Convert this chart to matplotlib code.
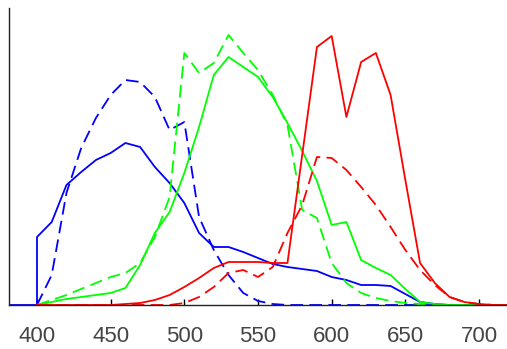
import matplotlib
matplotlib.use("Agg")
import matplotlib.pyplot as plt
import numpy as np

# wavelengths (nm), sampled every 10 nm
wl = np.arange(400, 730, 10)

# leading flat part of the blue solid curve
blue_lead_wl = [380, 400]
blue_lead = [0, 0]

blue_solid = [68, 83, 120, 133, 145, 152, 162, 158, 138, 122, 102, 72, 58, 58, 53, 47,
              41, 38, 36, 34, 28, 25, 20, 20, 19, 11, 3, 1, 0, 0, 0, 0, 0]
blue_dashed = [0, 30, 112, 157, 187, 210, 225, 223, 208, 175, 183, 88, 55, 30, 12, 4,
               1, 0, 0, 0, 0, 0, 0, 0, 0, 0, 0, 0, 0, 0, 0, 0, 0]
green_solid = [0, 3, 6, 8, 10, 12, 17, 40, 72, 93, 132, 178, 230, 248, 238, 228,
               208, 182, 154, 124, 80, 83, 45, 37, 30, 16, 3, 1, 0, 0, 0, 0, 0]
green_dashed = [0, 5, 10, 16, 22, 28, 32, 42, 68, 108, 252, 232, 242, 270, 252, 235,
                210, 180, 95, 87, 42, 22, 12, 7, 4, 2, 1, 0, 0, 0, 0, 0, 0]
red_solid = [0, 0, 0, 0, 0, 0, 1, 2, 5, 10, 18, 27, 37, 43, 43, 43,
             42, 42, 150, 258, 269, 188, 243, 252, 210, 125, 42, 22, 8, 3, 1, 0, 0]
red_dashed = [0, 0, 0, 0, 0, 0, 0, 0, 0, 0, 2, 8, 18, 32, 35, 28,
              38, 72, 100, 148, 147, 135, 118, 100, 78, 55, 35, 20, 8, 3, 1, 0, 0]

xticks = [400, 450, 500, 550, 600, 650, 700]

fig = plt.figure(figsize=(5.07, 3.49), dpi=100)
ax = fig.add_axes([9 / 507, 44 / 349, 498 / 507, 297 / 349])

lw = 1.3
dash = (7, 3.5)
ax.plot(list(blue_lead_wl) + list(wl), blue_lead + blue_solid, color="#0000ff", lw=lw)
ax.plot(wl, blue_dashed, color="#0000ff", lw=lw, dashes=dash)
ax.plot(wl, green_solid, color="#00ff00", lw=lw)
ax.plot(wl, green_dashed, color="#00ff00", lw=lw, dashes=dash)
ax.plot(wl, red_solid, color="#ff0000", lw=lw)
ax.plot(wl, red_dashed, color="#ff0000", lw=lw, dashes=dash)

ax.set_xlim(381, 719)
ax.set_ylim(0, 297)
ax.set_xticks(xticks)
ax.set_yticks([])
for s in ["top", "right"]:
    ax.spines[s].set_visible(False)
for s in ["left", "bottom"]:
    ax.spines[s].set_linewidth(1.0)
    ax.spines[s].set_color("#222222")
ax.tick_params(axis="x", direction="in", length=4, width=1, pad=15,
               labelsize=16, labelcolor="#444444")
for t in ax.get_xticklabels():
    t.set_family("Liberation Sans")

fig.savefig("out.png", dpi=100)
